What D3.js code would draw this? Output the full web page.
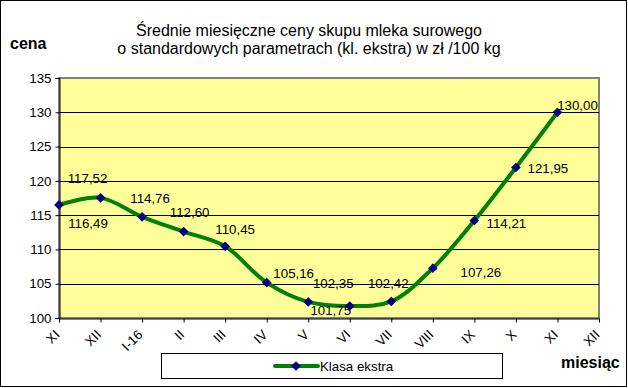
<!DOCTYPE html>
<html>
<head>
<meta charset="utf-8">
<script src="https://cdn.jsdelivr.net/npm/d3@7"></script>
<style>
  body { margin: 0; background: #fff; }
  text { font-family: Arial, "Liberation Sans", sans-serif; fill: #000; }
</style>
</head>
<body>
<svg id="chart"></svg>
<script>
const width = 628;
const height = 388;

// chart data
const months = ["XI", "XII", "I-16", "II", "III", "IV", "V", "VI", "VII", "VIII", "IX", "X", "XI", "XII"];
const prices = [116.49, 117.52, 114.76, 112.60, 110.45, 105.16, 102.35, 101.75, 102.42, 107.26, 114.21, 121.95, 130.00];
const yTicks = [100, 105, 110, 115, 120, 125, 130, 135];
const seriesName = "Klasa ekstra";

// label offsets, the way Excel scattered them
const labelDX = [29, -13, 8, 6, 10, 27, 25, -19, -3, 48, 32, 32, 20];
const labelDY = [18, -20, -18, -19, -17, -9, -19, 4, -18, 4, 3, 1, -7];

const plot = { left: 59, right: 599, top: 78, bottom: 318 };
const fontSmall = 13.3;

const svg = d3.select("#chart").attr("width", width).attr("height", height);

// outer frame
svg.append("rect")
    .attr("x", 0.5).attr("y", 0.5)
    .attr("width", width - 2).attr("height", height - 2)
    .attr("fill", "#fff")
    .attr("stroke", "#000")
    .attr("stroke-width", 1);

const x = d3.scalePoint()
    .domain(d3.range(months.length))
    .range([plot.left, plot.right]);

const y = d3.scaleLinear()
    .domain([100, 135])
    .range([plot.bottom, plot.top]);

// plot background
svg.append("rect")
    .attr("x", plot.left).attr("y", plot.top)
    .attr("width", plot.right - plot.left).attr("height", plot.bottom - plot.top)
    .attr("fill", "#ffff99")
    .attr("stroke", "#808080")
    .attr("stroke-width", 2);

// gridlines
svg.append("g")
    .selectAll("line")
    .data(yTicks.filter(d => d > 100 && d < 135))
    .join("line")
    .attr("x1", plot.left).attr("x2", plot.right)
    .attr("y1", d => Math.round(y(d)) + 0.5).attr("y2", d => Math.round(y(d)) + 0.5)
    .attr("stroke", "#000");

// y axis
const yAxis = svg.append("g")
    .attr("transform", `translate(${plot.left + 0.5},0)`)
    .call(d3.axisLeft(y).tickValues(yTicks).tickSize(4).tickPadding(4));
yAxis.select(".domain").attr("stroke", "#000");
yAxis.selectAll("text").attr("font-size", fontSmall).attr("font-family", "Arial, 'Liberation Sans', sans-serif");

// x axis
const xAxis = svg.append("g")
    .attr("transform", `translate(0,${plot.bottom + 0.5})`)
    .call(d3.axisBottom(x).tickFormat(i => months[i]).tickSize(4).tickSizeOuter(0));
xAxis.select(".domain").attr("stroke", "#000");
xAxis.selectAll("text")
    .attr("font-size", fontSmall)
    .attr("font-family", "Arial, 'Liberation Sans', sans-serif")
    .attr("text-anchor", "end")
    .attr("dy", null)
    .attr("y", 0)
    .attr("transform", "translate(1,17) rotate(-45)");

// line
const line = d3.line()
    .x((d, i) => x(i))
    .y(d => y(d))
    .curve(d3.curveCatmullRom.alpha(0.5));

svg.append("path")
    .datum(prices)
    .attr("d", line)
    .attr("fill", "none")
    .attr("stroke", "#008000")
    .attr("stroke-width", 4)
    .attr("stroke-linejoin", "round");

const diamond = d3.symbol().type(d3.symbolDiamond2).size(60);

svg.append("g")
    .selectAll("path")
    .data(prices)
    .join("path")
    .attr("d", diamond)
    .attr("transform", (d, i) => `translate(${x(i)},${y(d)})`)
    .attr("fill", "#000080");

// data labels
svg.append("g")
    .selectAll("text")
    .data(prices)
    .join("text")
    .attr("x", (d, i) => x(i) + labelDX[i])
    .attr("y", (d, i) => y(d) + labelDY[i])
    .attr("dy", "0.35em")
    .attr("text-anchor", "middle")
    .attr("font-size", fontSmall)
    .text(d => d.toFixed(2).replace(".", ","));

// titles
const title = svg.append("text")
    .attr("x", 309)
    .attr("text-anchor", "middle")
    .attr("font-size", 16);
title.append("tspan").attr("x", 309).attr("y", 36).text("Średnie miesięczne ceny skupu mleka surowego");
title.append("tspan").attr("x", 309).attr("y", 54).text("o standardowych parametrach (kl. ekstra) w zł /100 kg");

svg.append("text")
    .attr("x", 10).attr("y", 49)
    .attr("font-size", 16)
    .attr("font-weight", "bold")
    .text("cena");

svg.append("text")
    .attr("x", 561).attr("y", 368)
    .attr("font-size", 16)
    .attr("font-weight", "bold")
    .text("miesiąc");

// legend
const legend = svg.append("g");
legend.append("rect")
    .attr("x", 161.5).attr("y", 353.5)
    .attr("width", 341).attr("height", 25)
    .attr("fill", "#fff")
    .attr("stroke", "#000");
legend.append("line")
    .attr("x1", 275).attr("x2", 318)
    .attr("y1", 366).attr("y2", 366)
    .attr("stroke", "#008000")
    .attr("stroke-width", 4)
    .attr("stroke-linecap", "round");
legend.append("path")
    .attr("d", diamond)
    .attr("transform", "translate(296,366)")
    .attr("fill", "#000080");
legend.append("text")
    .attr("x", 320).attr("y", 366)
    .attr("dy", "0.35em")
    .attr("font-size", fontSmall)
    .text(seriesName);
</script>
</body>
</html>
